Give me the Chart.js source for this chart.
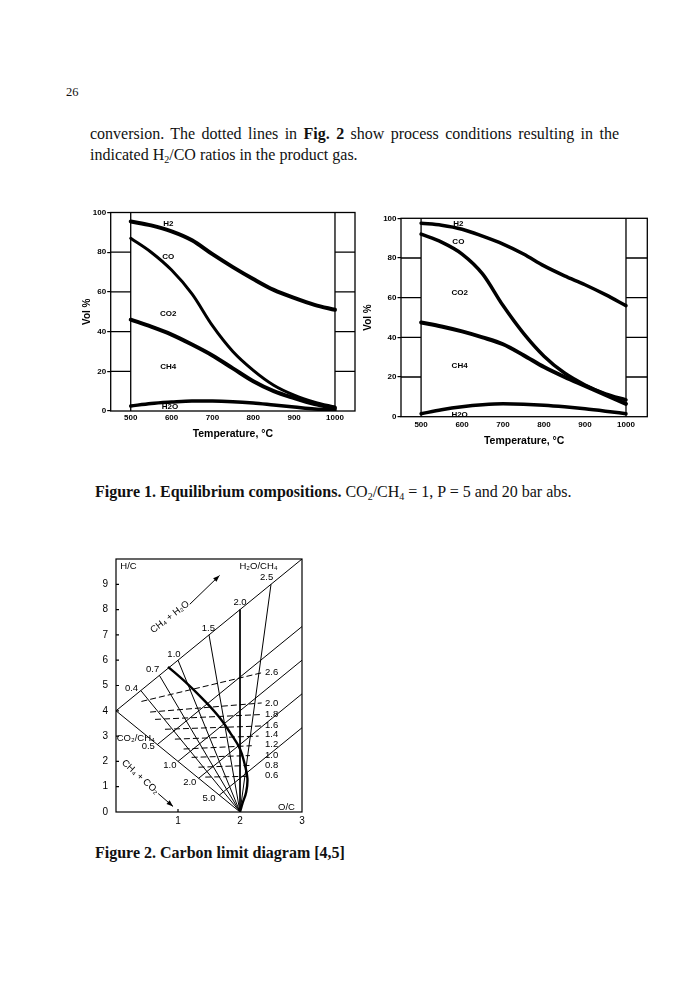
<!DOCTYPE html>
<html><head><meta charset="utf-8">
<script src="https://cdn.jsdelivr.net/npm/chart.js@4.4.1/dist/chart.umd.min.js"></script>
<style>
html,body{margin:0;padding:0;background:#fff;}
body{width:684px;height:1000px;position:relative;overflow:hidden;color:#111;}
.t{position:absolute;font-family:'Liberation Serif','Times New Roman',serif;white-space:nowrap;}
sub{font-size:10px;vertical-align:-3px;line-height:0;}
canvas{position:absolute;}
</style></head>
<body>
<div class="t" style="left:66px;top:85px;font-size:12.5px;">26</div>
<div class="t" style="left:90px;top:123px;width:529px;font-size:16px;line-height:21px;white-space:normal;">
  <div style="text-align:justify;text-align-last:justify;white-space:nowrap;">conversion. The dotted lines in <b>Fig. 2</b> show process conditions resulting in the</div>
  <div>indicated H<sub>2</sub>/CO ratios in the product gas.</div>
</div>
<div class="t" style="left:95px;top:481px;font-size:16px;line-height:21px;"><b>Figure 1. Equilibrium compositions.</b> CO<sub>2</sub>/CH<sub>4</sub> = 1, P = 5 and 20 bar abs.</div>
<div class="t" style="left:95px;top:842px;font-size:16px;line-height:21px;"><b>Figure 2. Carbon limit diagram [4,5]</b></div>

<canvas id="c1" width="305" height="250" style="left:60px;top:200px;width:305px;height:250px;"></canvas>
<canvas id="c2" width="305" height="255" style="left:360px;top:200px;width:305px;height:255px;"></canvas>
<canvas id="c3" width="235" height="290" style="left:80px;top:545px;width:235px;height:290px;"></canvas>

<script>
// ---------- Figure 1 data ----------
const temps = [500, 550, 600, 650, 700, 750, 800, 850, 900, 950, 1000];
const xTicks1 = [500, 600, 700, 800, 900, 1000];
const yTicks1 = [0, 20, 40, 60, 80, 100];
// P = 5 bar (left panel): cumulative boundaries between regions
const p5_h2_co   = [95.5, 93.5, 90.5, 86, 79, 72.5, 66.5, 61, 57, 53.5, 51];
const p5_co_co2  = [87, 80, 71, 59, 43, 30, 20.5, 13, 8, 4.5, 2];
const p5_co2_ch4 = [46, 42.5, 38.5, 33.5, 28, 21.5, 15, 10, 6.5, 3.5, 1.5];
const p5_ch4_h2o = [2.5, 3.8, 4.5, 5, 5, 4.7, 4, 3, 2, 1, 0.5];
// P = 20 bar (right panel)
const p20_h2_co   = [97.5, 96.5, 94.5, 91, 87, 82, 76, 71, 66.5, 61.5, 56];
const p20_co_co2  = [92, 88, 82, 72, 56, 42, 30.5, 22, 16, 11.5, 8.5];
const p20_co2_ch4 = [47.5, 45.5, 43, 40, 36.5, 31, 25, 20, 15.5, 11, 6.5];
const p20_ch4_h2o = [1.5, 3.5, 5, 6, 6.5, 6.3, 5.8, 5, 4, 2.8, 1.5];
const regionNames = ['H2', 'CO', 'CO2', 'CH4', 'H2O'];

// ---------- Figure 2 data ----------
const xTicks2 = [1, 2, 3];
const yTicks2 = [0, 1, 2, 3, 4, 5, 6, 7, 8, 9];
const ch4Point = [0, 4];
const apexPoint = [2, 0];
const h2oLineEnd = [3, 10];
const h2oRatios = ['0.4', '0.7', '1.0', '1.5', '2.0', '2.5'];
const h2oPtX = [0.4, 0.7, 1.0, 1.5, 2.0, 2.5];
const h2oPtY = [4.8, 5.4, 6.0, 7.0, 8.0, 9.0];
const co2Ratios = ['0.5', '1.0', '2.0', '5.0'];
const co2PtX = [0.667, 1.0, 1.333, 1.667];
const co2PtY = [2.667, 2.0, 1.333, 0.667];
const co2EndX = [3, 3, 3, 3];
const co2EndY = [7.33, 6.0, 4.67, 3.33];
const limitX = [0.84, 1.11, 1.41, 1.65, 1.84, 2.0, 2.08, 2.12, 2.10, 2.04, 2.0];
const limitY = [5.74, 5.16, 4.44, 3.79, 3.14, 2.49, 1.84, 1.32, 0.79, 0.34, 0.0];
const h2coRatios = ['2.6', '2.0', '1.8', '1.6', '1.4', '1.2', '1.0', '0.8', '0.6'];
const h2coX0 = [0.41, 0.55, 0.63, 0.79, 0.95, 1.09, 1.22, 1.33, 1.44];
const h2coY0 = [4.37, 3.95, 3.66, 3.27, 2.88, 2.49, 2.16, 1.77, 1.38];
const h2coX1 = [2.38, 2.35, 2.32, 2.35, 2.30, 2.19, 2.16, 2.16, 2.13];
const h2coY1 = [5.52, 4.31, 3.85, 3.40, 3.00, 2.62, 2.23, 1.84, 1.41];

Chart.defaults.font.family = "'Liberation Sans', Arial, Helvetica, sans-serif";
Chart.defaults.color = '#000';
Chart.defaults.animation = false;
const plainNum = v => String(v);

// ---------- Figure 1 charts ----------
const fig1Labels = {
  left:  {x: [592, 592, 592, 592, 596], y: [94.5, 77.7, 49.2, 22.3, 2]},
  right: {x: [591, 591, 594, 594, 594], y: [97.3, 88.2, 62.3, 25.5, 0.8]}
};
function fig1Plugin(labelPos) {
  return {
    id: 'fig1deco',
    afterDatasetsDraw(chart) {
      const {ctx, chartArea: a, scales: {x, y}} = chart;
      ctx.save();
      ctx.strokeStyle = '#000';
      ctx.lineWidth = 1.3;
      ctx.strokeRect(a.left, a.top, a.width, a.height);
      const x0 = x.getPixelForValue(xTicks1[0]);
      const x1 = x.getPixelForValue(xTicks1[xTicks1.length - 1]);
      ctx.beginPath();
      ctx.moveTo(x0, a.top); ctx.lineTo(x0, a.bottom);
      ctx.moveTo(x1, a.top); ctx.lineTo(x1, a.bottom);
      yTicks1.slice(1, -1).forEach(v => {
        const py = y.getPixelForValue(v);
        ctx.moveTo(a.left, py); ctx.lineTo(x0, py);
        ctx.moveTo(x1, py); ctx.lineTo(a.right, py);
      });
      ctx.stroke();
      ctx.fillStyle = '#000';
      ctx.font = "bold 8px 'Liberation Sans', Arial, sans-serif";
      ctx.textAlign = 'center';
      ctx.textBaseline = 'middle';
      regionNames.forEach((n, i) => {
        ctx.fillText(n, x.getPixelForValue(labelPos.x[i]), y.getPixelForValue(labelPos.y[i]));
      });
      ctx.restore();
    }
  };
}
function fig1Config(series, widths, lay, labelPos) {
  return {
    type: 'scatter',
    data: {
      datasets: series.map((s, i) => ({
        data: temps.map((t, j) => ({x: t, y: s[j]})),
        showLine: true, borderColor: '#000', borderWidth: widths[i],
        pointRadius: 0, cubicInterpolationMode: 'monotone', borderCapStyle: 'round'
      }))
    },
    options: {
      responsive: false, animation: false,
      layout: {padding: lay.pad},
      plugins: {legend: {display: false}, tooltip: {enabled: false}},
      scales: {
        x: {
          type: 'linear', min: lay.xmin, max: lay.xmax,
          afterBuildTicks: s => { s.ticks = xTicks1.map(v => ({value: v})); },
          afterFit: s => { s.height = lay.xh; },
          grid: {display: false, drawTicks: false}, border: {display: false},
          ticks: {font: {size: 8, weight: 'bold'}, padding: lay.xtp, maxRotation: 0, autoSkip: false, callback: plainNum},
          title: {display: true, text: 'Temperature, °C', font: {size: 10.5, weight: 'bold'}, padding: {top: 0, bottom: lay.ttb}}
        },
        y: {
          min: 0, max: 100,
          afterBuildTicks: s => { s.ticks = yTicks1.map(v => ({value: v})); },
          afterFit: s => { s.width = lay.yw; },
          grid: {display: true, drawOnChartArea: false, drawTicks: true, tickLength: 3.5, color: '#000', lineWidth: 1.2},
          border: {display: false},
          ticks: {font: {size: 8, weight: 'bold'}, padding: 1, callback: plainNum},
          title: {display: true, text: 'Vol %', font: {size: 10, weight: 'bold'}, padding: 0}
        }
      }
    },
    plugins: [fig1Plugin(labelPos)]
  };
}
new Chart(document.getElementById('c1'), fig1Config(
  [p5_h2_co, p5_co_co2, p5_co2_ch4, p5_ch4_h2o], [4, 3, 4, 3.5],
  {pad: {left: 21.4, top: 12.5, right: 10, bottom: 0}, xmin: 451, xmax: 1049, xh: 39, yw: 29.3, xtp: 2, ttb: 9.7},
  fig1Labels.left));
new Chart(document.getElementById('c2'), fig1Config(
  [p20_h2_co, p20_co_co2, p20_co2_ch4, p20_ch4_h2o], [3.5, 3.5, 4, 3.5],
  {pad: {left: 2, top: 18.3, right: 17.7, bottom: 0}, xmin: 451, xmax: 1052, xh: 38.3, yw: 39, xtp: 3.5, ttb: 7.7},
  fig1Labels.right));

// ---------- Figure 2 chart ----------
const seg = (a, b) => [{x: a[0], y: a[1]}, {x: b[0], y: b[1]}];
const thin = {showLine: true, borderColor: '#000', borderWidth: 1, pointRadius: 0, tension: 0};
const ds2 = [];
ds2.push(Object.assign({data: seg(ch4Point, h2oLineEnd)}, thin));
ds2.push(Object.assign({data: seg(ch4Point, apexPoint)}, thin));
h2oPtX.forEach((px, i) => ds2.push(Object.assign({data: seg([px, h2oPtY[i]], apexPoint)}, thin)));
co2PtX.forEach((px, i) => ds2.push(Object.assign({data: seg([px, co2PtY[i]], [co2EndX[i], co2EndY[i]])}, thin)));
h2coX0.forEach((px, i) => ds2.push(Object.assign({data: seg([px, h2coY0[i]], [h2coX1[i], h2coY1[i]])}, thin, {borderDash: [6, 3]})));
ds2.push({data: limitX.map((v, i) => ({x: v, y: limitY[i]})), showLine: true, borderColor: '#000', borderWidth: 2.4, pointRadius: 0, tension: 0.4});

const f2Arrows = [
  {from: [1.19, 8.21], to: [1.67, 9.35]},
  {from: [0.68, 0.73], to: [0.92, 0.22]}
];
const f2Labels = [
  {t: 'H/C', x: 0.07, y: 9.7, align: 'left'},
  {t: 'H₂O/CH₄', x: 2.30, y: 9.72},
  {t: 'CO₂/CH₄', x: 0.32, y: 2.92},
  {t: 'O/C', x: 2.75, y: 0.2},
  {t: 'CH₄ + H₂O', x: 0.87, y: 7.7, rot: -38},
  {t: 'CH₄ + CO₂', x: 0.39, y: 1.38, rot: 42}
];
const h2oLabelPos = {x: [0.25, 0.59, 0.935, 1.49, 2.0, 2.43], y: [4.9, 5.65, 6.22, 7.27, 8.28, 9.27]};
const co2LabelPos = {x: [0.52, 0.87, 1.19, 1.5], y: [2.58, 1.84, 1.16, 0.53]};
const h2coLabelPos = {x: 2.51, y: [5.51, 4.28, 3.84, 3.44, 3.07, 2.67, 2.25, 1.86, 1.45]};

const fig2Plugin = {
  id: 'fig2deco',
  afterDatasetsDraw(chart) {
    const {ctx, chartArea: a, scales: {x, y}} = chart;
    ctx.save();
    ctx.strokeStyle = '#000';
    ctx.fillStyle = '#000';
    ctx.lineWidth = 1.2;
    ctx.strokeRect(a.left, a.top, a.width, a.height);
    ctx.beginPath();
    yTicks2.slice(1).forEach(v => { const py = y.getPixelForValue(v); ctx.moveTo(a.left, py); ctx.lineTo(a.left + 3, py); });
    xTicks2.slice(0, -1).forEach(v => { const px = x.getPixelForValue(v); ctx.moveTo(px, a.bottom); ctx.lineTo(px, a.bottom - 3); });
    ctx.stroke();
    ctx.lineWidth = 1;
    f2Arrows.forEach(ar => {
      const x0 = x.getPixelForValue(ar.from[0]), y0 = y.getPixelForValue(ar.from[1]);
      const x1 = x.getPixelForValue(ar.to[0]), y1 = y.getPixelForValue(ar.to[1]);
      const ang = Math.atan2(y1 - y0, x1 - x0);
      ctx.beginPath(); ctx.moveTo(x0, y0); ctx.lineTo(x1, y1); ctx.stroke();
      ctx.beginPath();
      ctx.moveTo(x1, y1);
      ctx.lineTo(x1 - 7 * Math.cos(ang - 0.35), y1 - 7 * Math.sin(ang - 0.35));
      ctx.lineTo(x1 - 7 * Math.cos(ang + 0.35), y1 - 7 * Math.sin(ang + 0.35));
      ctx.closePath(); ctx.fill();
    });
    ctx.font = "9.5px 'Liberation Sans', Arial, sans-serif";
    ctx.textBaseline = 'middle';
    const put = (t, dx, dy, align, rot) => {
      ctx.save();
      ctx.translate(x.getPixelForValue(dx), y.getPixelForValue(dy));
      if (rot) ctx.rotate(rot * Math.PI / 180);
      ctx.textAlign = align || 'center';
      ctx.fillText(t, 0, 0);
      ctx.restore();
    };
    f2Labels.forEach(l => put(l.t, l.x, l.y, l.align, l.rot));
    h2oRatios.forEach((r, i) => put(r, h2oLabelPos.x[i], h2oLabelPos.y[i]));
    co2Ratios.forEach((r, i) => put(r, co2LabelPos.x[i], co2LabelPos.y[i]));
    h2coRatios.forEach((r, i) => put(r, h2coLabelPos.x, h2coLabelPos.y[i]));
    ctx.restore();
  }
};

new Chart(document.getElementById('c3'), {
  type: 'scatter',
  data: {datasets: ds2},
  options: {
    responsive: false, animation: false,
    layout: {padding: {left: 0, top: 12, right: 13, bottom: 0}},
    plugins: {legend: {display: false}, tooltip: {enabled: false}},
    scales: {
      x: {
        type: 'linear', min: 0, max: 3,
        afterBuildTicks: s => { s.ticks = xTicks2.map(v => ({value: v})); },
        afterFit: s => { s.height = 23; },
        grid: {display: false, drawTicks: false}, border: {display: false},
        ticks: {font: {size: 10}, padding: 3, maxRotation: 0, autoSkip: false, callback: plainNum}
      },
      y: {
        min: 0, max: 10,
        afterBuildTicks: s => { s.ticks = yTicks2.map(v => ({value: v})); },
        afterFit: s => { s.width = 36; },
        grid: {display: false, drawTicks: false}, border: {display: false},
        ticks: {font: {size: 10}, padding: 8, autoSkip: false, callback: plainNum}
      }
    }
  },
  plugins: [fig2Plugin]
});
</script>
</body></html>
